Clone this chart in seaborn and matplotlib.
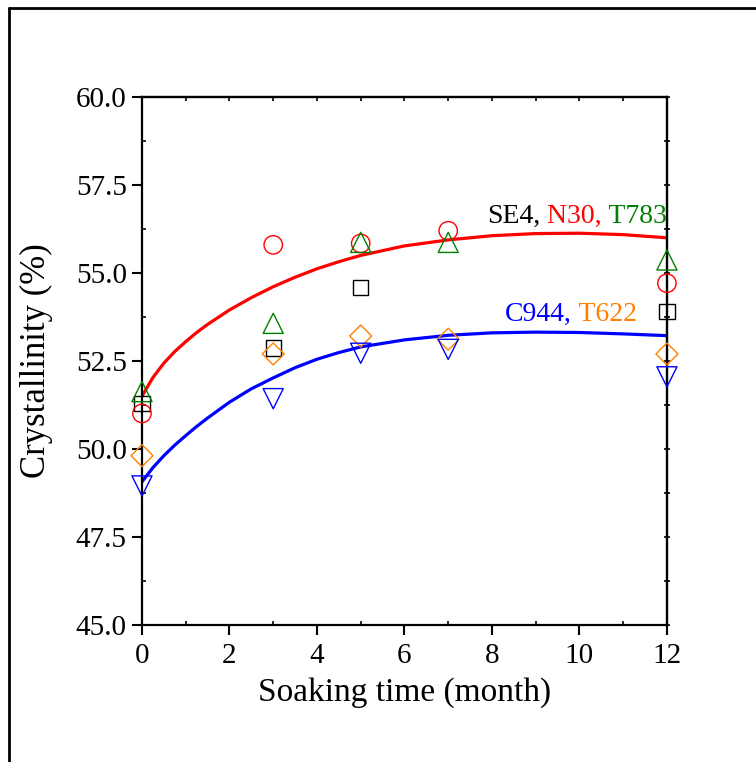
import seaborn as sns
import matplotlib.pyplot as plt
import numpy as np
import pandas as pd
from matplotlib.lines import Line2D
from matplotlib.ticker import MultipleLocator, FormatStrFormatter

# measured crystallinity (%) vs soaking time (month)
months = [0, 3, 5, 7, 12]
se4 = [51.3, 52.87, 54.59, np.nan, 53.90]
n30 = [51.01, 55.80, 55.84, 56.20, 54.71]
t783 = [51.63, 53.57, 55.87, 55.87, 55.37]
c944 = [48.95, 51.43, 52.72, 52.83, 52.05]
t622 = [49.81, 52.70, 53.21, 53.12, 52.70]

# fitted trend curves
curve_x = [0, 0.25, 0.5, 0.75, 1, 1.25, 1.5, 2, 2.5, 3, 3.5, 4, 4.5, 5,
           6, 7, 8, 9, 10, 11, 12]
curve_upper = [51.5, 52.03, 52.44, 52.77, 53.05, 53.31, 53.54, 53.95, 54.3,
               54.61, 54.88, 55.12, 55.32, 55.50, 55.77, 55.94, 56.06, 56.12,
               56.13, 56.09, 56.0]
curve_lower = [49.07, 49.47, 49.81, 50.11, 50.38, 50.64, 50.88, 51.33, 51.71,
               52.02, 52.31, 52.55, 52.74, 52.9, 53.1, 53.23, 53.3, 53.32,
               53.31, 53.27, 53.22]

sns.set_theme(style="ticks")
plt.rcParams['font.family'] = ['Liberation Serif', 'DejaVu Serif']
plt.rcParams['text.color'] = 'black'
plt.rcParams['axes.labelcolor'] = 'black'
plt.rcParams['xtick.color'] = 'black'
plt.rcParams['ytick.color'] = 'black'

fig = plt.figure(figsize=(7.56, 7.62), dpi=100)
ax = fig.add_axes([0.1878, 0.1798, 0.6944, 0.6929])

# curves
curves = pd.DataFrame({'x': curve_x, 'upper': curve_upper, 'lower': curve_lower})
sns.lineplot(data=curves, x='x', y='upper', color='#ff0000', lw=2.3, ax=ax)
sns.lineplot(data=curves, x='x', y='lower', color='#0000ff', lw=2.3, ax=ax)

# scatter series: (values, marker, colour, size)
series = [
    (se4, 's', 'black', 120),
    (n30, 'o', '#ff0000', 175),
    (t783, '^', '#008000', 210),
    (t622, 'D', '#ff8000', 125),
    (c944, 'v', '#0000ff', 210),
]
for vals, mk, col, sz in series:
    df = pd.DataFrame({'x': months, 'y': vals}).dropna()
    sns.scatterplot(data=df, x='x', y='y', marker=mk, s=sz, facecolor='none',
                    edgecolor=col, linewidth=1.0, ax=ax, zorder=3, clip_on=False)

ax.set_xlim(0, 12)
ax.set_ylim(45, 60)
ax.xaxis.set_major_locator(MultipleLocator(2))
ax.xaxis.set_minor_locator(MultipleLocator(1))
ax.yaxis.set_major_locator(MultipleLocator(2.5))
ax.yaxis.set_minor_locator(MultipleLocator(1.25))
ax.yaxis.set_major_formatter(FormatStrFormatter('%.1f'))

for sp in ax.spines.values():
    sp.set_visible(True)
    sp.set_linewidth(1.6)
    sp.set_color('black')

ax.tick_params(which='major', direction='out', length=7, width=1.5,
               labelsize=21, pad=4, top=False, right=False)
ax.tick_params(which='minor', direction='in', length=3, width=1.2,
               top=False, right=False)
ax.tick_params(axis='x', which='major', pad=6)

# short inward ticks on the top and right frame
ax_top = ax.secondary_xaxis('top')
ax_top.xaxis.set_major_locator(MultipleLocator(1))
ax_top.tick_params(direction='in', length=3, width=1.2, labeltop=False)
ax_top.spines['top'].set_linewidth(1.6)
ax_right = ax.secondary_yaxis('right')
ax_right.yaxis.set_major_locator(MultipleLocator(1.25))
ax_right.tick_params(direction='inout', length=4, width=1.2, labelright=False)
ax_right.spines['right'].set_linewidth(1.6)

ax.set_xlabel('Soaking time (month)', fontsize=24, labelpad=6, color='black')
ax.set_ylabel('Crystallinity (%)', fontsize=25, labelpad=16, color='black')

# coloured annotations
def colored_label(parts, x, y):
    txt, col = parts[0]
    prev = ax.text(x, y, txt, color=col, fontsize=20, va='bottom', ha='left')
    for txt, col in parts[1:]:
        prev = ax.annotate(txt, xy=(1, 0), xycoords=prev, color=col,
                           fontsize=20, va='bottom', ha='left')

colored_label([('SE4,', 'black'), (' N30,', '#ff0000'), (' T783', '#008000')], 7.88, 56.25)
colored_label([('C944,', '#0000ff'), (' T622', '#ff8000')], 8.3, 53.47)

# partial outer frame (top and left edges)
fig.add_artist(Line2D([0.012, 0.012], [0.0, 0.989], transform=fig.transFigure,
                      color='black', lw=2))
fig.add_artist(Line2D([0.012, 1.0], [0.989, 0.989], transform=fig.transFigure,
                      color='black', lw=2))

plt.savefig('out.png', dpi=100)
